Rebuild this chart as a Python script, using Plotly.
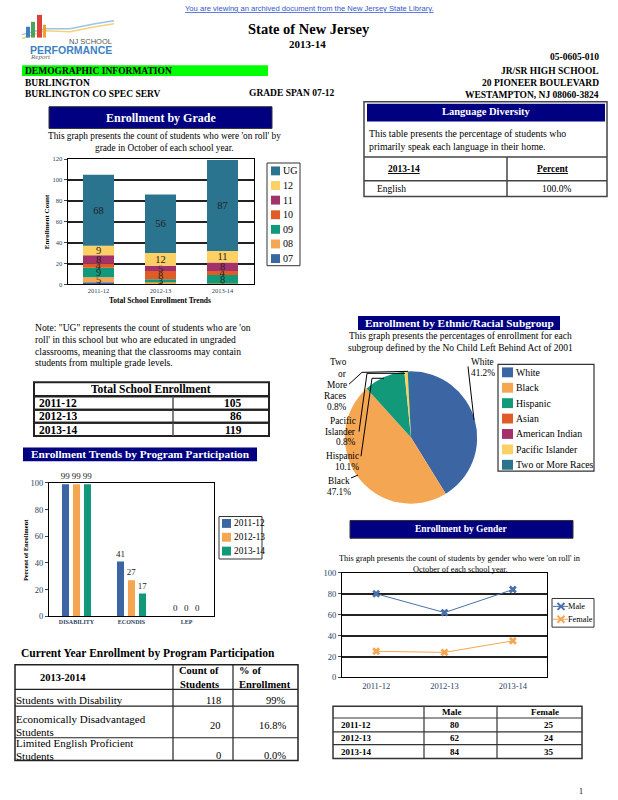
import plotly.graph_objects as go
import numpy as np

W, H = 618, 800
SERIF = "Liberation Serif"
SANS = "Liberation Sans"
NAVY = "#000080"

# ---------------- data ----------------
years = ['2011-12', '2012-13', '2013-14']
grade_names = ['07', '08', '09', '10', '11', '12', 'UG']
grade_07 = [2, 1, 0]
grade_08 = [5, 1, 1]
grade_09 = [9, 3, 8]
grade_10 = [4, 8, 4]
grade_11 = [8, 5, 8]
grade_12 = [9, 12, 11]
grade_UG = [68, 56, 87]
grade_colors = ['#3c65a3', '#f4a652', '#12997a', '#e05b26', '#a3326a', '#fdd064', '#2a7490']

total_enrollment = [105, 86, 119]

program_cats = ['DISABILITY', 'ECONDIS', 'LEP']
program_2011 = [99, 41, 0]
program_2012 = [99, 27, 0]
program_2013 = [99, 17, 0]
program_colors = ['#3c65a3', '#f4a652', '#12997a']

eth_labels = ['White', 'Black', 'Hispanic', 'Asian', 'American Indian', 'Pacific Islander', 'Two or More Races']
eth_values = [41.2, 47.1, 10.1, 0.0, 0.0, 0.8, 0.8]
eth_colors = ['#3c65a3', '#f4a652', '#12997a', '#e05b26', '#a3326a', '#fdd064', '#2a7490']

gender_male = [80, 62, 84]
gender_female = [25, 24, 35]
gender_colors = ['#4a70aa', '#f4a652']

language_names = ['English']
language_pct = [100.0]

current_programs = ['Students with Disability', 'Economically Disadvantaged<br>Students',
                    'Limited English Proficient<br>Students']
current_counts = [118, 20, 0]
current_pcts = ['99%', '16.8%', '0.0%']

# ---------------- helpers ----------------
def X(px): return px / W
def Y(py): return 1 - py / H

shapes, annotations = [], []

def text(px, py, s, size=10, bold=False, color='black', anchor='left', family=SERIF, angle=0):
    annotations.append(dict(x=X(px), y=Y(py), xref='paper', yref='paper',
                            text=(f'<b>{s}</b>' if bold else s), showarrow=False,
                            xanchor=anchor, yanchor='middle', textangle=angle,
                            font=dict(family=family, size=size, color=color), borderpad=0))

def rect(x0, y0, x1, y1, fill=None, line=None, lw=1):
    shapes.append(dict(type='rect', xref='paper', yref='paper', x0=X(x0), x1=X(x1), y0=Y(y1), y1=Y(y0),
                       fillcolor=fill if fill else 'rgba(0,0,0,0)',
                       line=dict(color=line if line else 'rgba(0,0,0,0)', width=lw if line else 0)))

def hline(x0, x1, y, color='black', lw=1):
    shapes.append(dict(type='line', xref='paper', yref='paper', x0=X(x0), x1=X(x1), y0=Y(y), y1=Y(y),
                       line=dict(color=color, width=lw)))

def vline(x, y0, y1, color='black', lw=1):
    shapes.append(dict(type='line', xref='paper', yref='paper', x0=X(x), x1=X(x), y0=Y(y0), y1=Y(y1),
                       line=dict(color=color, width=lw)))

def path(points, color='black', lw=1):
    d = 'M ' + ' L '.join(f'{X(a):.5f},{Y(b):.5f}' for a, b in points)
    shapes.append(dict(type='path', xref='paper', yref='paper', path=d, line=dict(color=color, width=lw)))

fig = go.Figure()

# ---------------- Enrollment by grade (stacked) ----------------
grade_series = [grade_07, grade_08, grade_09, grade_10, grade_11, grade_12, grade_UG]
base = np.zeros(len(years))
for name, vals, col in zip(grade_names, grade_series, grade_colors):
    fig.add_trace(go.Bar(x=years, y=vals, base=base.copy(), name=name, marker=dict(color=col, line=dict(width=0)),
                         width=0.5, offset=-0.25, xaxis='x', yaxis='y', showlegend=False,
                         text=[str(v) if v > 0 else '' for v in vals], textposition='inside',
                         insidetextanchor='middle', textangle=0, constraintext='none',
                         insidetextfont=dict(family=SERIF, size=10.5, color='#222')))
    base = base + np.array(vals)

# ---------------- Program participation (grouped) ----------------
for name, vals, col in zip(years, [program_2011, program_2012, program_2013], program_colors):
    fig.add_trace(go.Bar(x=program_cats, y=vals, name=name, marker=dict(color=col, line=dict(width=0)),
                         xaxis='x2', yaxis='y2', showlegend=False, text=[str(v) for v in vals],
                         textposition='outside', cliponaxis=False, constraintext='none',
                         textfont=dict(family=SERIF, size=9, color='#222')))

# ---------------- Ethnic pie ----------------
fig.add_trace(go.Pie(labels=eth_labels, values=eth_values, marker=dict(colors=eth_colors, line=dict(width=0)),
                     sort=False, direction='clockwise', rotation=0, textinfo='none', showlegend=False,
                     domain=dict(x=[X(344), X(478)], y=[Y(505), Y(371)])))

# ---------------- Gender lines ----------------
for name, vals, col in zip(['Male', 'Female'], [gender_male, gender_female], gender_colors):
    fig.add_trace(go.Scatter(x=years, y=vals, name=name, mode='lines+markers', xaxis='x3', yaxis='y3',
                             line=dict(color=col, width=1), marker=dict(symbol='x', size=7, color=col),
                             showlegend=False))

axis_common = dict(showline=True, mirror=True, linecolor='black', linewidth=1, zeroline=False)
fig.update_layout(
    width=W, height=H, autosize=False, margin=dict(l=0, r=0, t=0, b=0),
    paper_bgcolor='white', plot_bgcolor='white',
    barmode='group', bargap=0.4, bargroupgap=0.36,
    xaxis=dict(domain=[X(67.5), X(253.5)], anchor='y', type='category', range=[-0.5, 2.5], showgrid=False,
               tickfont=dict(family=SERIF, size=6.5), ticks='', **axis_common),
    yaxis=dict(domain=[Y(283), Y(156)], anchor='x', range=[0, 120], dtick=20, showgrid=True,
               gridcolor='#222', gridwidth=1.5, tickfont=dict(family=SERIF, size=6.5), ticks='outside',
               ticklen=3, **axis_common),
    xaxis2=dict(domain=[X(49), X(214)], anchor='y2', type='category', range=[-0.5, 2.5], showgrid=False,
                tickfont=dict(family=SERIF, size=6, weight='bold'), ticks='', **axis_common),
    yaxis2=dict(domain=[Y(619), Y(484)], anchor='x2', range=[0, 100], dtick=20, showgrid=False,
                tickfont=dict(family=SERIF, size=8.5), ticks='outside', ticklen=3, **axis_common),
    xaxis3=dict(domain=[X(342), X(547)], anchor='y3', type='category', range=[-0.5, 2.5], showgrid=False,
                tickfont=dict(family=SERIF, size=8.5), ticks='', **axis_common),
    yaxis3=dict(domain=[Y(681), Y(575)], anchor='x3', range=[0, 100], dtick=20, showgrid=True,
                gridcolor='#222', gridwidth=1.5, tickfont=dict(family=SERIF, size=8.5), ticks='outside',
                ticklen=3, **axis_common),
)

# ---------------- page header ----------------
text(309, 4, '<u>You are viewing an archived document from the New Jersey State Library.</u>', size=7.6,
     color='#3355cc', anchor='center', family=SANS)
# logo
path([(22, 34), (45, 26), (70, 27), (95, 22), (114, 19)], color='#f2d27a', lw=1.5)
path([(22, 30), (45, 24), (70, 24), (95, 19), (114, 16)], color='#9cc3e6', lw=1.5)
rect(26, 22, 30, 33, fill='#3f7fc0')
rect(31, 17, 35, 33, fill='#4aa35a')
rect(37, 10, 42, 33, fill='#d9413a')
rect(43, 20, 46, 33, fill='#f0a030')
text(113, 37, 'NJ SCHOOL', size=7.5, color='#555', anchor='right', family=SANS)
text(113, 45.5, '<b>PERFORMANCE</b>', size=10.5, color='#3b82c4', anchor='right', family=SANS)
text(29, 53, '<i>Report</i>', size=7, color='#666', family=SERIF)

text(309, 24, 'State of New Jersey', size=14.5, bold=True, anchor='center')
text(307, 39, '2013-14', size=11, bold=True, anchor='center')
text(600, 53, '05-0605-010', size=9.5, bold=True, anchor='right')
rect(22, 61, 268, 72, fill='#00ff00')
text(24, 67, 'DEMOGRAPHIC INFORMATION', size=9.5, bold=True)
text(600, 67, 'JR/SR HIGH SCHOOL', size=9.5, bold=True, anchor='right')
text(24, 79, 'BURLINGTON', size=9.5, bold=True)
text(600, 79, '20 PIONEER BOULEVARD', size=9.5, bold=True, anchor='right')
text(24, 90, 'BURLINGTON CO SPEC SERV', size=9.5, bold=True)
text(248, 89, 'GRADE SPAN 07-12', size=9.5, bold=True)
text(600, 91, 'WESTAMPTON, NJ 08060-3824', size=9.5, bold=True, anchor='right')

# ---------------- Enrollment by grade decorations ----------------
rect(49, 103, 272, 125, fill=NAVY, line='#333', lw=1)
text(161, 114, 'Enrollment by Grade', size=12, bold=True, color='white', anchor='center')
text(164, 133, "This graph presents the count of students who were 'on roll' by", size=9.3, anchor='center')
text(164, 145, 'grade in October of each school year.', size=9.3, anchor='center')
text(47, 220, 'Enrollment Count', size=7, bold=True, anchor='center', angle=-90)
text(160, 299, 'Total School Enrollment Trends', size=7.5, bold=True, anchor='center')
rect(267, 160, 300, 264, line='#333', lw=1)
for i, (name, col) in enumerate(zip(grade_names[::-1], grade_colors[::-1])):
    yy = 168 + i * 14.8
    rect(271, yy - 4.5, 280, yy + 4.5, fill=col)
    text(282, yy, name, size=10)

# ---------------- Language diversity ----------------
rect(364, 98, 607, 194, line='#444', lw=1.5)
rect(367, 100, 605, 118, fill=NAVY)
text(486, 108, 'Language Diversity', size=10.5, bold=True, color='white', anchor='center')
text(368, 130, 'This table presents the percentage of students who', size=9.8)
text(368, 143, 'primarily speak each language in their home.', size=9.8)
hline(364, 607, 154, color='#444', lw=1.5)
hline(364, 607, 178, color='#444', lw=1.5)
vline(507, 154, 194, color='#444', lw=1.5)
text(404, 166, '<u>2013-14</u>', size=9.5, bold=True, anchor='center')
text(553, 166, '<u>Percent</u>', size=9.5, bold=True, anchor='center')
for i, (nm, pc) in enumerate(zip(language_names, language_pct)):
    text(376, 186 + i * 12, nm, size=9.5)
    text(556, 186 + i * 12, f'{pc:.1f}%', size=9.5, anchor='center')

# ---------------- Note + total enrollment ----------------
note_lines = ['Note: "UG" represents the count of students who are \'on',
              "roll' in this school but who are educated in ungraded",
              'classrooms, meaning that the classrooms may contain',
              'students from multiple grade levels.']
for i, ln in enumerate(note_lines):
    text(34, 327 + i * 11.8, ln, size=9.6)

rect(34, 382, 269, 396, line='#222', lw=2)
text(151, 389, 'Total School Enrollment', size=11.5, bold=True, anchor='center')
for i, (yr, tot) in enumerate(zip(years, total_enrollment)):
    y0 = 396.5 + i * 13.3
    rect(34, y0, 269, y0 + 13.3, line='#222', lw=2)
    vline(173, y0, y0 + 13.3, color='#555', lw=1.5)
    text(38, y0 + 6.8, yr, size=11.5, bold=True)
    text(243, y0 + 6.8, str(tot), size=11.5, bold=True, anchor='right')

# ---------------- Program participation decorations ----------------
rect(23, 448, 257, 462, fill=NAVY)
text(140, 455, 'Enrollment Trends by Program Participation', size=11.3, bold=True, color='white', anchor='center')
text(25, 552, 'Percent of Enrollment', size=6.5, bold=True, anchor='center', angle=-90)
rect(219, 518, 262, 561, line='#333', lw=1)
for i, (name, col) in enumerate(zip(years, program_colors)):
    yy = 525 + i * 14
    rect(222, yy - 4.5, 231, yy + 4.5, fill=col)
    text(233, yy, name, size=9.3)

# ---------------- Current year table ----------------
text(20, 657, 'Current Year Enrollment by Program Participation', size=11.5, bold=True)
rect(15, 668, 298, 765, line='#222', lw=1.5)
for yy in [693, 710, 742]:
    hline(15, 298, yy, color='#222', lw=1.2)
vline(173, 668, 765, color='#222', lw=1.2)
vline(233, 668, 765, color='#222', lw=1.2)
text(63, 681, '2013-2014', size=10.5, bold=True, anchor='center')
text(199, 674, 'Count of', size=10.5, bold=True, anchor='center')
text(199, 688, 'Students', size=10.5, bold=True, anchor='center')
text(238, 674, '% of', size=10.5, bold=True)
text(238, 688, 'Enrollment', size=10.5, bold=True)
row_text_y = [[704], [723, 736], [747, 760]]
row_val_y = [704, 730, 760]
for prog, cnt, pct, tys, vy in zip(current_programs, current_counts, current_pcts, row_text_y, row_val_y):
    for part, ty in zip(prog.split('<br>'), tys):
        text(15, ty, part, size=11)
    text(222, vy, str(cnt), size=10.5, anchor='right')
    text(287, vy, pct, size=10.5, anchor='right')

# ---------------- Ethnic pie decorations ----------------
rect(358, 315, 560, 329, fill=NAVY)
text(459, 322, 'Enrollment by Ethnic/Racial Subgroup', size=11.3, bold=True, color='white', anchor='center')
text(460, 335, 'This graph presents the percentages of enrollment for each', size=9.5, anchor='center')
text(460, 347, 'subgroup defined by the No Child Left Behind Act of 2001', size=9.5, anchor='center')
# slice labels with leader lines
text(470, 362, 'White', size=9.3)
text(470, 373, f'{eth_values[0]:.1f}%', size=9.3)
path([(468, 366), (474, 420)])
for i, s in enumerate(['Two', 'or', 'More', 'Races', f'{eth_values[6]:.1f}%']):
    text(348, 362 + i * 11.2, s, size=9.3, anchor='right')
path([(349, 384), (362, 372), (408, 371)])
for i, s in enumerate(['Pacific', 'Islander', f'{eth_values[5]:.1f}%']):
    text(357, 421 + i * 11, s, size=9.3, anchor='right')
path([(359, 432), (367, 373), (405, 373)])
text(360, 457, 'Hispanic', size=9.3, anchor='right')
text(360, 468, f'{eth_values[2]:.1f}%', size=9.3, anchor='right')
path([(361, 457), (372, 378), (384, 378)])
text(351, 482, 'Black', size=9.3, anchor='right')
text(352, 493, f'{eth_values[1]:.1f}%', size=9.3, anchor='right')
path([(351, 479), (358, 476)])
rect(498, 364, 594, 472, line='#333', lw=1.2)
for i, (name, col) in enumerate(zip(eth_labels, eth_colors)):
    yy = 372 + i * 15.6
    rect(502, yy - 5, 513, yy + 5, fill=col)
    text(515, yy, name, size=9.8)

# ---------------- Gender decorations ----------------
rect(350, 522, 573, 540, fill=NAVY, line='#333', lw=1)
text(461, 531, 'Enrollment by Gender', size=9.5, bold=True, color='white', anchor='center')
text(460, 561, "This graph presents the count of students by gender who were 'on roll' in", size=8.3, anchor='center')
text(460, 572, 'October of each school year.', size=8.3, anchor='center')
rect(552, 601, 594, 630, line='#333', lw=1)
for i, (name, col) in enumerate(zip(['Male', 'Female'], gender_colors)):
    yy = 609 + i * 13
    hline(553, 568, yy, color=col, lw=1)
    path([(557.5, yy - 3.5), (564.5, yy + 3.5)], color=col, lw=2)
    path([(557.5, yy + 3.5), (564.5, yy - 3.5)], color=col, lw=2)
    text(567, yy, name, size=8.3)

# gender table
rect(333, 710, 582, 763, line='#333', lw=1.5)
for yy in [722, 736, 749]:
    hline(333, 582, yy, color='#333', lw=1.2)
vline(424, 710, 763, color='#333', lw=1.2)
vline(497, 710, 763, color='#333', lw=1.2)
text(452, 716, 'Male', size=9, bold=True, anchor='center')
text(545, 716, 'Female', size=9, bold=True, anchor='center')
for i, (yr, m, f) in enumerate(zip(years, gender_male, gender_female)):
    yy = 729 + i * 13.5
    text(340, yy, yr, size=9, bold=True)
    text(455, yy, str(m), size=9, bold=True, anchor='center')
    text(549, yy, str(f), size=9, bold=True, anchor='center')

text(578, 796, '1', size=8, family=SERIF)

fig.update_layout(shapes=shapes, annotations=annotations)
fig.write_html('out.html', config={'displayModeBar': False},
               post_script="document.body.style.margin='0';document.body.style.overflow='hidden';")
